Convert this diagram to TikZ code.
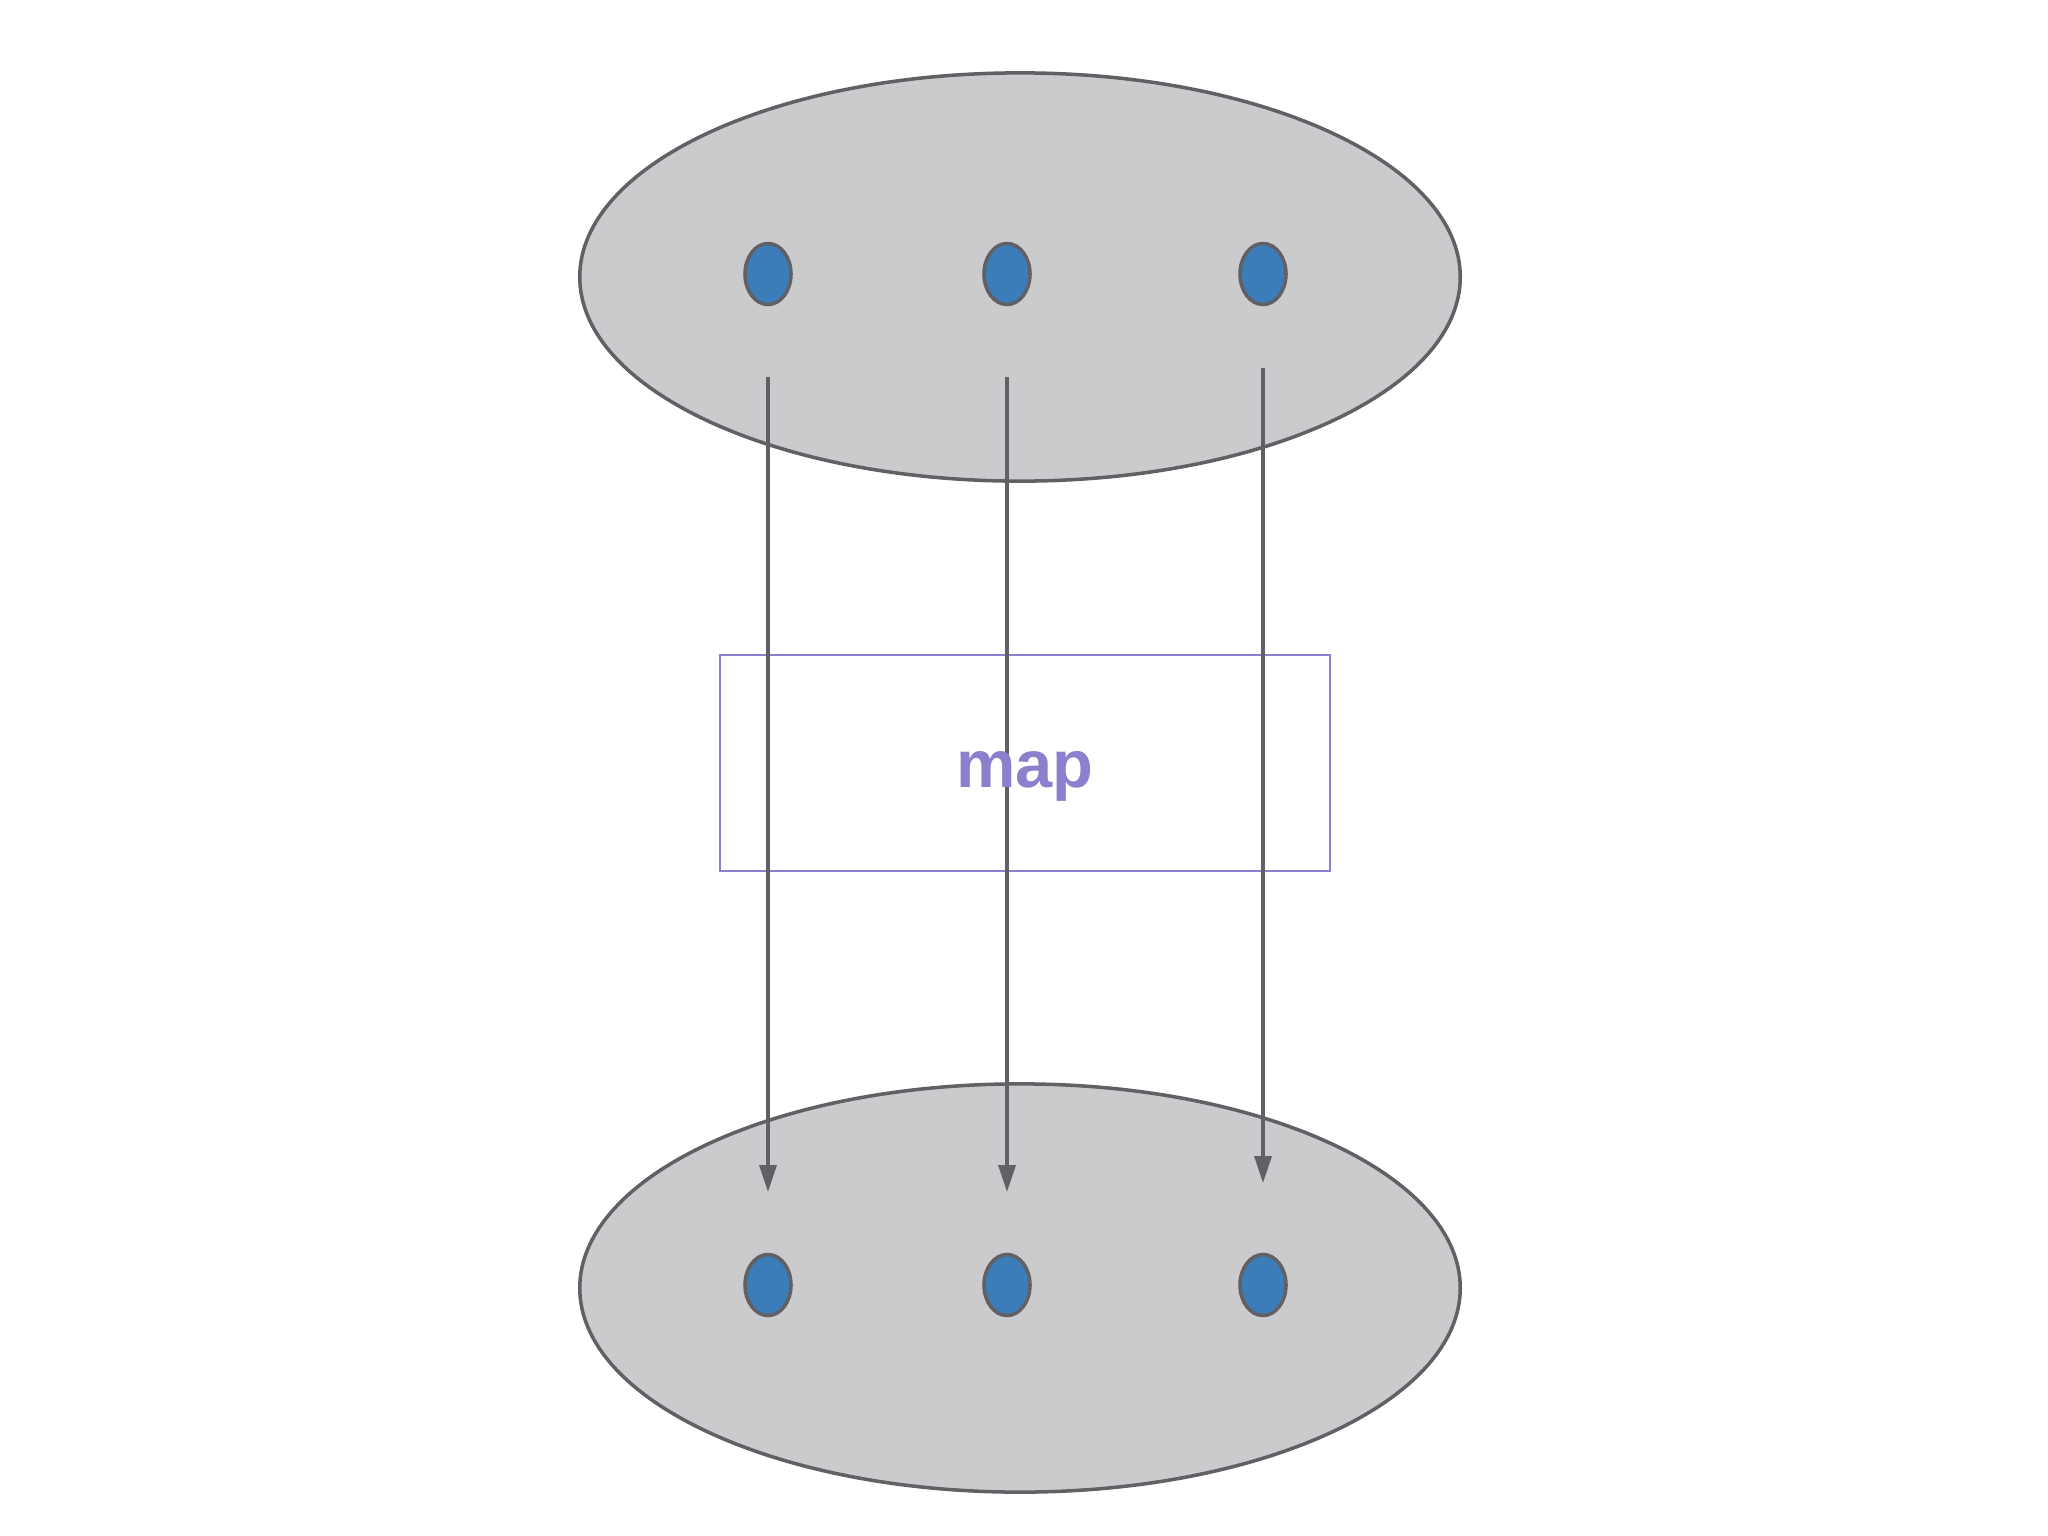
\documentclass[tikz,border=0pt]{standalone}
\usepackage{fontspec}
\setmainfont{Liberation Sans}
\usepackage{xcolor}
\usepackage{tikz}
\usetikzlibrary{arrows.meta}
\usetikzlibrary{shapes.geometric}
\usetikzlibrary{positioning}
\definecolor{setgray}{HTML}{CBCBCD}
\definecolor{edgegray}{HTML}{606065}
\definecolor{ptblue}{HTML}{3A7DB8}
\definecolor{mappurple}{HTML}{8A80CE}
\tikzset{
  set/.style={ellipse, draw=edgegray, fill=setgray, line width=1pt, minimum width=8.8cm, minimum height=4.08cm, inner sep=0pt},
  pt/.style={ellipse, draw=edgegray, fill=ptblue, line width=1pt, minimum width=0.46cm, minimum height=0.61cm, inner sep=0pt},
  arr/.style={draw=edgegray, line width=1pt, -{Triangle[length=2.7mm,width=1.7mm]}},
  mapbox/.style={draw=mappurple, line width=0.5pt, minimum width=6.1cm, minimum height=2.16cm, inner sep=0pt}
}
\begin{document}
\begin{tikzpicture}[x=0.01cm,y=-0.01cm]
                \useasboundingbox (0,0) rectangle (2048,1536);
                \node[set] (dom) at (1020,277) {};
                \node[set] (cod) at (1020,1288) {};
                \node[pt] (d1) at (768,274) {};
                \node[pt] (d2) at (1007,274) {};
                \node[pt] (d3) at (1263,274) {};
                \node[pt] (c1) at (768,1285) {};
                \node[pt] (c2) at (1007,1285) {};
                \node[pt] (c3) at (1263,1285) {};
                \node[mapbox] (box) at (1025,763) {};
                \coordinate (a1) at (768,377);
                \coordinate (a2) at (1007,377);
                \coordinate (a3) at (1263,368);
                \coordinate (b1) at (768,1192);
                \coordinate (b2) at (1007,1192);
                \coordinate (b3) at (1263,1183);
                \foreach \i in {1,2,3}
                  \draw[arr] (a\i) -- (b\i);
                \node[anchor=base, text=mappurple, font=\fontsize{19pt}{22pt}\selectfont\bfseries, inner sep=0pt] (lbl) at (1025,787) {map};
            \end{tikzpicture}
\end{document}
